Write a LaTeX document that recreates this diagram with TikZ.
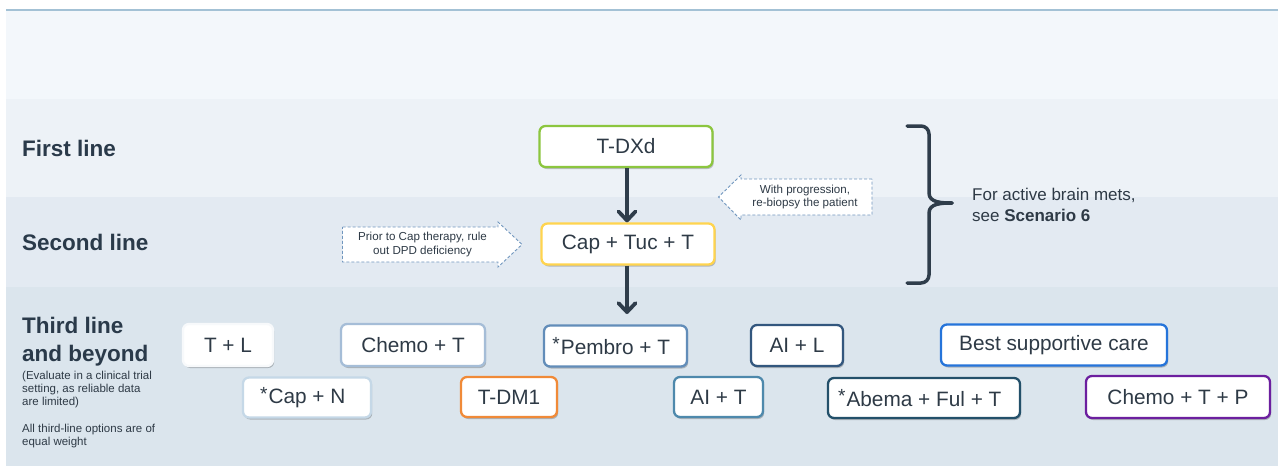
\documentclass[tikz,border=0pt]{standalone}
\usepackage{fontspec}
\setmainfont{Liberation Sans}
\usetikzlibrary{arrows.meta,shadows}

\definecolor{ink}{HTML}{2E3A46}
\definecolor{labelc}{HTML}{2A3A4A}
\definecolor{arrowc}{HTML}{2F3D4B}
\definecolor{bandA}{HTML}{F3F7FB}
\definecolor{bandB}{HTML}{EDF2F7}
\definecolor{bandC}{HTML}{E3EAF2}
\definecolor{bandD}{HTML}{DBE5ED}
\definecolor{topline}{HTML}{A3C1D5}
\definecolor{noteline}{HTML}{7096BE}
\definecolor{cGreen}{HTML}{8CC63F}
\definecolor{cYellow}{HTML}{FFD44F}
\definecolor{cOrange}{HTML}{F08A38}
\definecolor{cBsc}{HTML}{2574DA}
\definecolor{cPurple}{HTML}{6C1F9F}
\definecolor{cAil}{HTML}{33577E}
\definecolor{cAbema}{HTML}{23506A}
\definecolor{cAit}{HTML}{4E89AC}
\definecolor{cPembro}{HTML}{628DB9}
\definecolor{cChemo}{HTML}{A5BDD7}
\definecolor{cCapn}{HTML}{C5D8E7}
\definecolor{cTl}{HTML}{F7F9FB}

\newcommand\setfs[2]{\fontsize{#1pt}{#2pt}\selectfont}
\newcommand\stmark{\llap{\raisebox{3.5pt}{\setfs{19}{19}*}\hspace{1pt}}}

\begin{document}
\begin{tikzpicture}[x=1pt,y=-1pt,
  optbox/.style={draw, rounded corners=6pt, fill=white, line width=2.3pt,
    text=ink, font=\setfs{20.8}{24}, inner sep=0pt,
    drop shadow={shadow xshift=1.2pt, shadow yshift=-2pt, opacity=0.22, fill=black}},
  linelabel/.style={anchor=base west, inner sep=0pt, text=labelc, font=\bfseries\setfs{22.5}{27}},
  smallnote/.style={anchor=base west, inner sep=0pt, text=ink, font=\setfs{11.5}{13.5}},
  callout/.style={draw=noteline, fill=white, line width=0.9pt, dash pattern=on 3pt off 2pt},
  callouttext/.style={inner sep=0pt, align=center, text=ink, font=\setfs{11.6}{13.5}},
  flow/.style={draw=arrowc, line width=3.8pt, -{Straight Barb[length=9pt,width=17pt,round]}},
  bracket/.style={draw=arrowc, line width=3.5pt, line cap=round, line join=round}
]
\useasboundingbox (0,0) rectangle (1278,466);
\fill[white] (0,0) rectangle (1278,466);

% background bands
\fill[bandA] (6,10) rectangle (1278,99);
\fill[bandB] (6,99) rectangle (1278,197);
\fill[bandC] (6,197) rectangle (1278,287);
\fill[bandD] (6,287) rectangle (1278,466);
\draw[topline, line width=2.5pt] (6,10) -- (1278,10);

% row labels
\node[linelabel] (first) at (22,156) {First line};
\node[linelabel] (second) at (22,250) {Second line};
\node[linelabel] (third) at (22,333) {Third line};
\node[linelabel] (beyond) at (22,361) {and beyond};
\node[smallnote] (eval1) at (22,379.5) {(Evaluate in a clinical trial};
\node[smallnote] (eval2) at (22,392.5) {setting, as reliable data};
\node[smallnote] (eval3) at (22,405.5) {are limited)};
\node[smallnote] (weight1) at (22,432.5) {All third-line options are of};
\node[smallnote] (weight2) at (22,445.5) {equal weight};

% first and second line
\node[optbox, draw=cGreen, minimum width=173pt, minimum height=41pt] (tdxd) at (626,146.5) {T-DXd};
\node[optbox, draw=cYellow, minimum width=173pt, minimum height=41pt] (ctt) at (628,244) {Cap + Tuc + T};

% dashed callouts
\draw[callout] (342.5,227) -- (498,227) -- (498,222) -- (522,244.5) -- (498,267) -- (498,262) -- (342.5,262) -- cycle;
\node[callouttext] (dpd) at (422.5,244.5) {Prior to Cap therapy, rule\\out DPD deficiency};
\draw[callout] (872,179) -- (741,179) -- (741,175) -- (718.5,197) -- (741,220) -- (741,215) -- (872,215) -- cycle;
\node[callouttext] (biopsy) at (805,197) {With progression,\\re-biopsy the patient};

% flow arrows
\coordinate (thirdin) at (627,314);
\draw[flow] (tdxd.south -| 627,0) -- (ctt.north -| 627,0);
\draw[flow] (ctt.south -| 627,0) -- (thirdin);

% brace and its note
\draw[bracket] (907,126) -- (921,126) to[out=0,in=90] (929,134) -- (929,193)
  to[out=-90,in=180] (952,203);
\draw[bracket] (907,283) -- (921,283) to[out=0,in=-90] (929,275) -- (929,213)
  to[out=90,in=180] (952,203);
\node[anchor=west, inner sep=0pt, align=left, text=ink, font=\setfs{17}{21}] (brain) at (972,205)
  {For active brain mets,\\see \textbf{Scenario 6}};

% third line and beyond
\node[optbox, draw=cTl, minimum width=90pt, minimum height=42pt] (tl) at (228,345) {T + L};
\node[optbox, draw=cChemo, minimum width=144pt, minimum height=42pt] (chemo) at (413,345) {Chemo + T};
\node[optbox, draw=cPembro, minimum width=143pt, minimum height=41pt] (pembro) at (615.5,346) {\stmark Pembro + T};
\node[optbox, draw=cAil, minimum width=92pt, minimum height=41pt] (ail) at (797,345.5) {AI + L};
\node[optbox, draw=cBsc, minimum width=226pt, minimum height=41pt] (bsc) at (1054,345) {Best supportive care};

\node[optbox, draw=cCapn, minimum width=128pt, minimum height=40pt] (capn) at (307,397.5) {\stmark Cap + N};
\node[optbox, draw=cOrange, minimum width=96pt, minimum height=40pt] (tdm1) at (509,397) {T-DM1};
\node[optbox, draw=cAit, minimum width=89pt, minimum height=40pt] (ait) at (718.5,397) {AI + T};
\node[optbox, draw=cAbema, minimum width=192pt, minimum height=40pt] (abema) at (924,398) {\stmark Abema + Ful + T};
\node[optbox, draw=cPurple, minimum width=184pt, minimum height=42pt] (ctp) at (1178,397) {Chemo + T + P};
\end{tikzpicture}
\end{document}
